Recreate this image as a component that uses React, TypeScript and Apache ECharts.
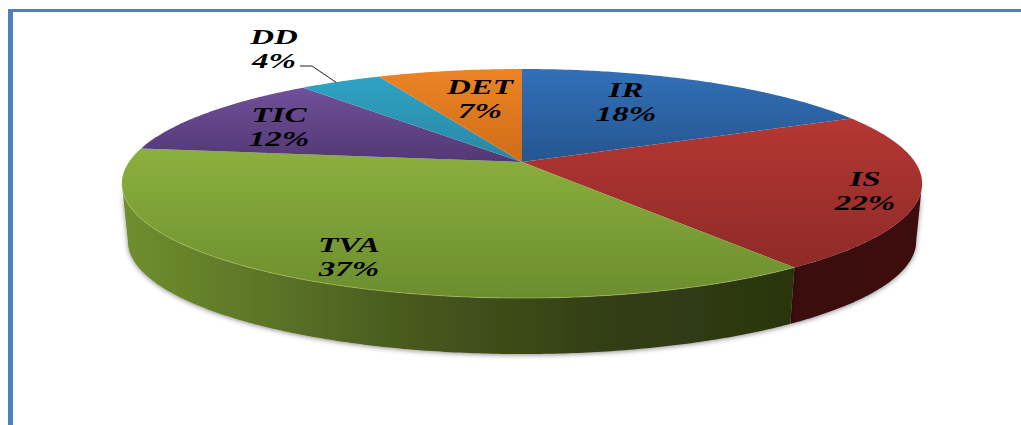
import React, { useEffect, useRef } from "react";
import * as echarts from "echarts";

// Share of each category, clockwise from twelve o'clock.
const categories = ["IR", "IS", "TVA", "TIC", "DD", "DET"];
const shares = [18, 22, 37, 12, 4, 7];

// Top-face shading per slice: upper colour, lower colour.
const topUpper = ["#3270b8", "#b53733", "#8cb03e", "#70509a", "#2fa3c4", "#ec8426"];
const topLower = ["#25568f", "#8e2a27", "#6c8d2e", "#523873", "#2a86a2", "#cf6c16"];

// Side wall shading across the visible front, left to right.
const wallStops: [number, string][] = [
  [122, "#6f8f2e"],
  [260, "#5c7628"],
  [420, "#46571d"],
  [600, "#333f14"],
  [780, "#2b3610"],
];
const wallIS: [string, string] = ["#3a0e0c", "#3d0f0d"];

// Disc geometry in perspective.
const cx = 522;
const cy = 162;
const discR = 393;
const discH = 110.5;
const persp = 0.188;
const depth = 58;
const baseScale = 0.985;

const TAU = Math.PI * 2;
const silhouette = Math.acos(-persp);

function rim(theta: number, s = 1, dy = 0): [number, number] {
  const u = Math.sin(theta);
  const v = Math.cos(theta);
  const w = 1 + persp * v;
  return [cx + (s * discR * u) / w, cy + dy - (s * discH * v) / w];
}

function arcPoints(a: number, b: number, s = 1, dy = 0): [number, number][] {
  const n = Math.max(2, Math.ceil(Math.abs(b - a) / 0.01));
  const pts: [number, number][] = [];
  for (let i = 0; i <= n; i++) pts.push(rim(a + ((b - a) * i) / n, s, dy));
  return pts;
}

const total = shares.reduce((a, b) => a + b, 0);
const sliceData = shares.map((share, i) => {
  const before = shares.slice(0, i).reduce((a, b) => a + b, 0);
  return [i, share, (before / total) * TAU, ((before + share) / total) * TAU];
});

const labelLines = categories.map((c, i) => `${c}\n${shares[i]}%`);
// Label centres on the chart.
const labelSpots: [number, number][] = [
  [626, 102],
  [865, 191],
  [349, 257],
  [279, 127],
  [274, 49],
  [480, 99],
];

function wallGradient() {
  const span = 780 - 122;
  return new echarts.graphic.LinearGradient(
    122,
    0,
    780,
    0,
    wallStops.map(([x, color]) => ({ offset: (x - 122) / span, color })),
    true
  );
}

function renderWall(_: any, api: any) {
  const i = api.value(0);
  const a = Math.max(api.value(2), silhouette);
  const b = Math.min(api.value(3), TAU - silhouette);
  if (b <= a) return { type: "group", children: [] };
  const top = arcPoints(a, b);
  const bottom = arcPoints(b, a, baseScale, depth);
  const fill =
    categories[i] === "IS"
      ? new echarts.graphic.LinearGradient(0, 0, 1, 0, [
          { offset: 0, color: wallIS[0] },
          { offset: 1, color: wallIS[1] },
        ])
      : wallGradient();
  return {
    type: "polygon",
    shape: { points: top.concat(bottom) },
    style: { fill, shadowBlur: 5, shadowColor: "rgba(0,0,0,0.45)", shadowOffsetY: 1 },
  };
}

function renderTop(_: any, api: any) {
  const i = api.value(0);
  const a = api.value(2);
  const b = api.value(3);
  const points = [[cx, cy] as [number, number]].concat(arcPoints(a, b));
  const front: [number, number][] = [];
  const fa = Math.max(a, silhouette);
  const fb = Math.min(b, TAU - silhouette);
  if (fb > fa) front.push(...arcPoints(fa, fb));
  const children: any[] = [
    {
      type: "polygon",
      shape: { points },
      style: {
        fill: new echarts.graphic.LinearGradient(0, 0, 0, 1, [
          { offset: 0, color: topUpper[i] },
          { offset: 1, color: topLower[i] },
        ]),
      },
    },
  ];
  if (front.length && categories[i] === "TVA") {
    children.push({
      type: "polyline",
      shape: { points: front },
      style: { fill: "none", stroke: "rgba(190,215,120,0.45)", lineWidth: 1 },
    });
  }
  return { type: "group", children };
}

function renderLabel(_: any, api: any) {
  const i = api.value(0);
  const [x, y] = labelSpots[i];
  const children: any[] = [
    {
      type: "text",
      x,
      y,
      scaleX: 1.5,
      style: {
        text: labelLines[i],
        fill: "#000",
        font: 'italic bold 22px "Liberation Serif", serif',
        lineHeight: 24,
        align: "center",
        verticalAlign: "middle",
      },
    },
  ];
  if (categories[i] === "DD") {
    // Leader from the label out to the rim at the slice's mid angle.
    const end = rim((api.value(2) + api.value(3)) / 2);
    children.push({
      type: "polyline",
      shape: { points: [[300, 66], [312, 66], [end[0] - 4, end[1] + 1]] },
      style: { fill: "none", stroke: "#222", lineWidth: 1 },
    });
  }
  return { type: "group", children };
}

export default function App() {
  const ref = useRef<HTMLDivElement>(null);
  useEffect(() => {
    document.body.style.margin = "0";
    const chart = echarts.init(ref.current!, undefined, { renderer: "svg" });
    const base = { type: "custom", coordinateSystem: "none", data: sliceData, silent: true };
    chart.setOption({
      animation: false,
      backgroundColor: "#fff",
      graphic: [
        {
          type: "rect",
          z: 10,
          shape: { x: 8, y: 9, width: 1013, height: 3 },
          style: { fill: "#4f81bd" },
        },
        {
          type: "rect",
          z: 10,
          shape: { x: 8, y: 9, width: 5, height: 416 },
          style: { fill: "#4f81bd" },
        },
      ],
      series: [
        { ...base, z: 1, renderItem: renderWall },
        { ...base, z: 2, renderItem: renderTop },
        { ...base, z: 3, renderItem: renderLabel },
      ],
    });
    return () => chart.dispose();
  }, []);
  return <div ref={ref} style={{ width: 1021, height: 425 }} />;
}
